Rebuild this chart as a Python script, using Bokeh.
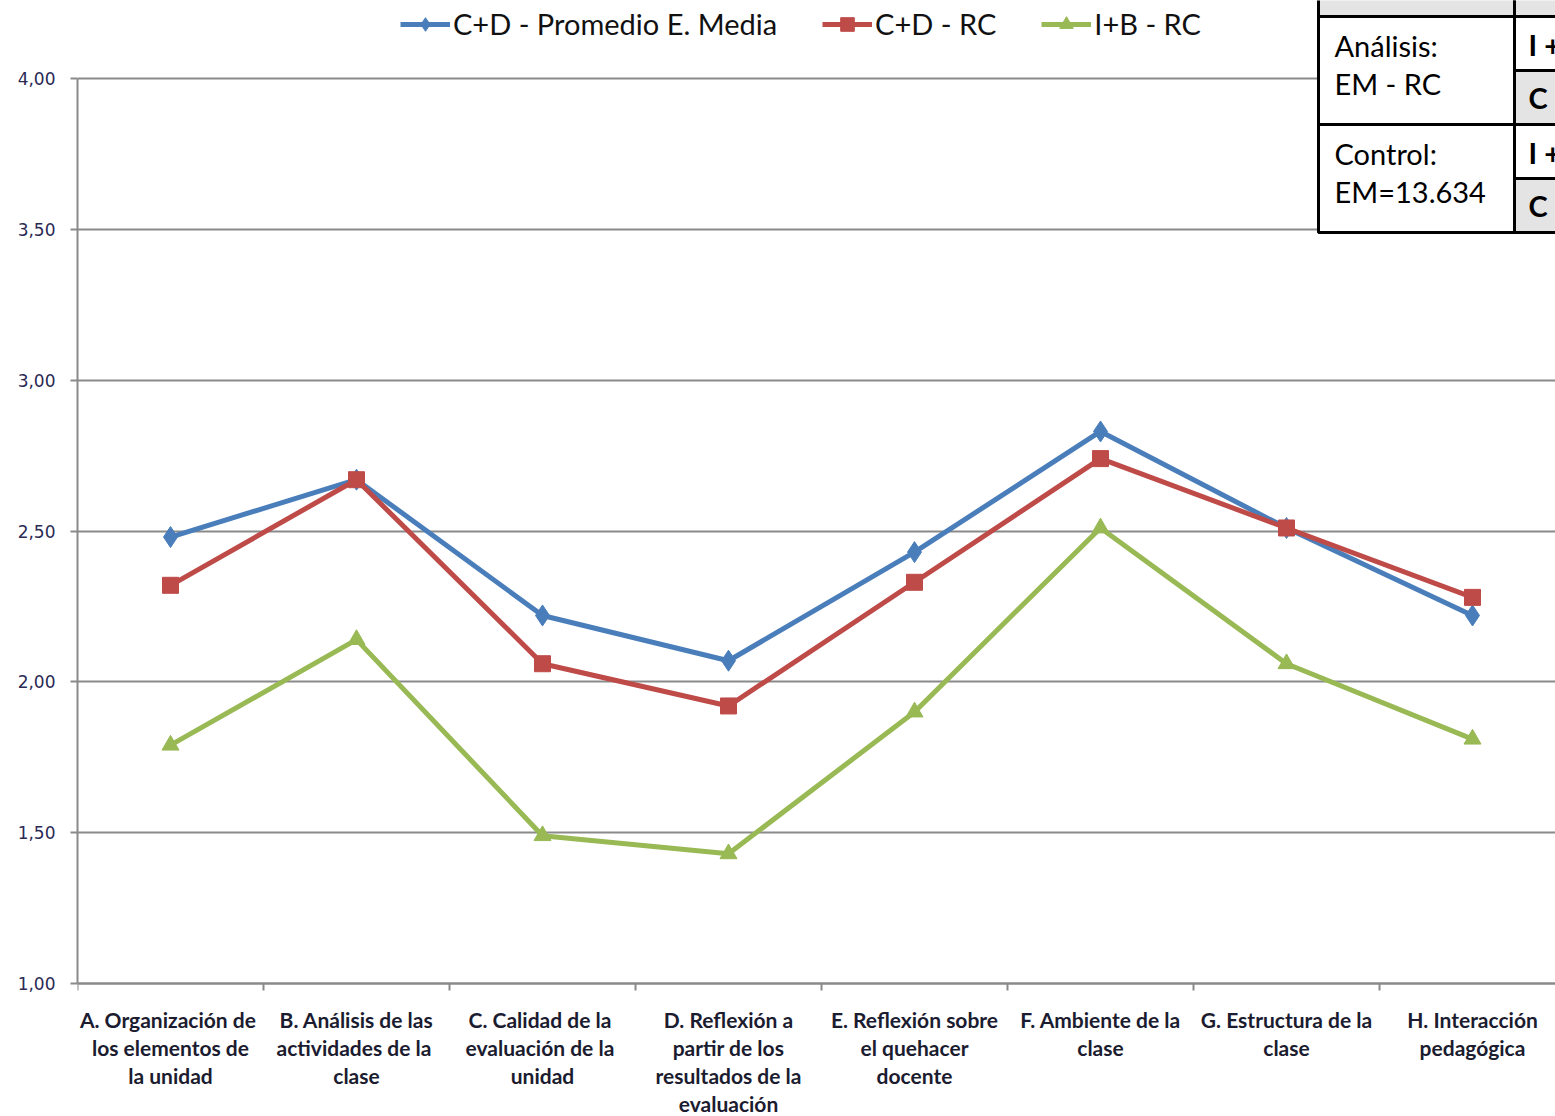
from bokeh.plotting import figure
from bokeh.models import Range1d, FixedTicker, Legend, LegendItem
from bokeh.embed import file_html
from bokeh.resources import INLINE
from bokeh.core.properties import value

# ---------------- data ----------------
categories = [
    "A. Organización  de\nlos elementos de\nla unidad",
    "B. Análisis de las\nactividades  de la\nclase",
    "C. Calidad  de la\nevaluación  de la\nunidad",
    "D. Reflexión a\npartir de los\nresultados de la\nevaluación",
    "E. Reflexión sobre\nel quehacer\ndocente",
    "F. Ambiente de la\nclase",
    "G. Estructura de la\nclase",
    "H. Interacción\npedagógica",
]
series_names = ["C+D - Promedio E. Media", "C+D - RC", "I+B - RC"]
promedio_em = [2.48, 2.67, 2.22, 2.07, 2.43, 2.83, 2.51, 2.22]
cd_rc = [2.32, 2.67, 2.06, 1.92, 2.33, 2.74, 2.51, 2.28]
ib_rc = [1.79, 2.14, 1.49, 1.43, 1.90, 2.51, 2.06, 1.81]
y_ticks = [1.0, 1.5, 2.0, 2.5, 3.0, 3.5, 4.0]
y_tick_labels = ["1,00", "1,50", "2,00", "2,50", "3,00", "3,50", "4,00"]
table_left_texts = ["Análisis:", "EM - RC", "Control:", "EM=13.634"]
table_right_texts = ["I + B", "C + D", "I + B", "C + D"]

# ---------------- layout helpers (page pixels -> data) ----------------
FRAME_LEFT, AXIS_BOTTOM = 77, 983
PX_PER_CAT = 186.0
PX_PER_UNIT = 905.0 / 3.0
PAGE_TOP, PAGE_BOTTOM, PAGE_RIGHT = 0, 1116, 1555


def px2x(px):
    return (px - FRAME_LEFT) / PX_PER_CAT


def py2y(py):
    return 1.0 + (AXIS_BOTTOM - py) / PX_PER_UNIT


n = len(categories)
xs = [i + 0.5 for i in range(n)]

p = figure(
    width=PAGE_RIGHT, height=PAGE_BOTTOM - PAGE_TOP,
    x_range=Range1d(0, px2x(PAGE_RIGHT)),
    y_range=Range1d(py2y(PAGE_BOTTOM), py2y(PAGE_TOP)),
    output_backend="svg", toolbar_location=None,
    min_border_left=FRAME_LEFT, min_border_right=0, min_border_top=0, min_border_bottom=0,
)
p.outline_line_color = None
p.background_fill_color = "white"
p.border_fill_color = "white"

# grid
p.xgrid.visible = False
p.ygrid.ticker = FixedTicker(ticks=y_ticks)
p.ygrid.grid_line_color = "#8a8a8a"
p.ygrid.grid_line_width = 2

AX = "#8a8a8a"
# y axis
ya = p.yaxis[0]
ya.ticker = FixedTicker(ticks=y_ticks)
ya.major_label_overrides = dict(zip(y_ticks, y_tick_labels))
ya.bounds = (1, 4)
ya.axis_line_color = AX
ya.axis_line_width = 2
ya.major_tick_line_color = AX
ya.major_tick_line_width = 2
ya.major_tick_out = 7
ya.major_tick_in = 0
ya.minor_tick_line_color = None
ya.major_label_standoff = 15
ya.major_label_text_font = "DejaVu Sans"
ya.major_label_text_font_size = "17px"
ya.major_label_text_color = "#2a2a55"

# x axis (drawn at y = 1.00)
xa = p.xaxis[0]
xa.fixed_location = 1.0
xa.ticker = FixedTicker(ticks=xs, minor_ticks=list(range(n)))
xa.major_label_overrides = dict(zip(xs, categories))
xa.axis_line_color = AX
xa.axis_line_width = 2
xa.major_tick_line_color = None
xa.major_tick_out = 0
xa.major_tick_in = 0
xa.minor_tick_line_color = AX
xa.minor_tick_line_width = 2
xa.minor_tick_out = 7
xa.minor_tick_in = 0
xa.major_label_standoff = 16
xa.major_label_orientation = "horizontal"
xa.major_label_text_font = "Lato"
xa.major_label_text_font_style = "bold"
xa.major_label_text_font_size = "21px"
xa.major_label_text_line_height = 1.12
xa.major_label_text_color = "#1c1c30"

# series
colors = ["#4A7EBB", "#BE4B48", "#98B954"]
markers = ["diamond", "square", "triangle"]
sizes = [21, 16, 17]
items = []
for name, vals, c, m, s in zip(series_names, [promedio_em, cd_rc, ib_rc], colors, markers, sizes):
    lr = p.line(xs, vals, line_color=c, line_width=5)
    sr = p.scatter(xs, vals, marker=m, size=s, fill_color=c, line_color=c)
    items.append(LegendItem(label=name, renderers=[lr, sr]))

legend = Legend(
    items=items, orientation="horizontal", location=(400 - FRAME_LEFT, PAGE_BOTTOM - 41),
    glyph_width=50, glyph_height=34, label_standoff=3, spacing=45,
    padding=0, margin=0, border_line_color=None, background_fill_alpha=0,
    label_text_font="Lato", label_text_font_size="29px",
    label_text_color="#111111", label_height=34,
)
p.add_layout(legend)

# table (top-right)
GRAY = "#e4e4e4"
cells_left = [1318, 1514, 1318, 1514, 1514, 1318, 1514, 1514]
cells_right = [1514, 1620, 1514, 1620, 1620, 1514, 1620, 1620]
cells_top = [-30, -30, 16, 16, 70, 124, 124, 178]
cells_bottom = [16, 16, 124, 70, 124, 232, 178, 232]
cells_fill = [GRAY, GRAY, "white", "white", GRAY, "white", "white", GRAY]
p.quad(
    left=[px2x(v) for v in cells_left], right=[px2x(v) for v in cells_right],
    top=[py2y(v) for v in cells_top], bottom=[py2y(v) for v in cells_bottom],
    fill_color=cells_fill, line_color="black", line_width=3,
)
p.text(
    x=[px2x(1334)] * 4, y=[py2y(v) for v in [45, 83, 153, 191]],
    text=table_left_texts, text_font=value("Lato"), text_font_size="29px",
    text_baseline="middle", text_align="left", text_color="black",
)
p.text(
    x=[px2x(1528)] * 4, y=[py2y(v) for v in [44, 97, 152, 205]],
    text=table_right_texts, text_font=value("Lato"), text_font_size="29px",
    text_font_style="bold", text_baseline="middle", text_align="left", text_color="black",
)

open("out.html", "w").write(file_html(p, INLINE))
